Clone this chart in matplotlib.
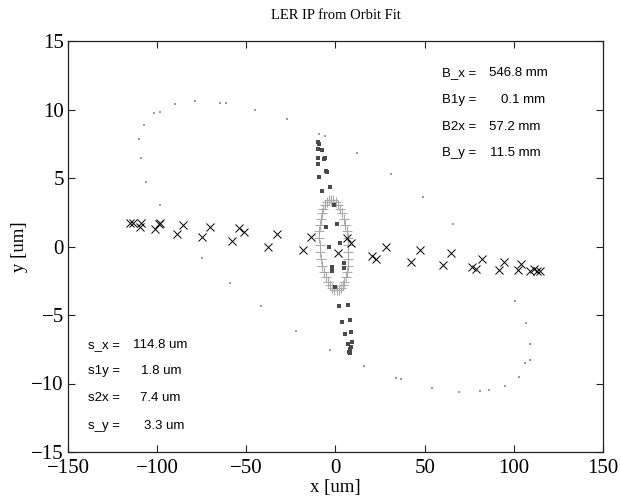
import matplotlib
matplotlib.use("Agg")
import matplotlib.pyplot as plt

# ---- data ----
cross_x = [-115.1, -113.8, -109.9, -108.9, -101.4, -99.0, -98.2, -88.8, -85.6, -74.8,
           -70.6, -58.2, -54.1, -51.3, -37.7, -32.9, -18.4, -13.7, 1.3, 6.4, 8.8,
           20.7, 22.5, 28.2, 42.6, 47.3, 60.1, 64.8, 76.4, 78.9, 82.0, 91.8, 94.3,
           102.1, 104.2, 109.3, 111.2, 113.1, 114.9]
cross_y = [1.74, 1.74, 1.45, 1.74, 1.25, 1.64, 1.74, 0.91, 1.57, 0.67,
           1.45, 0.42, 1.37, 1.08, -0.06, 0.91, -0.26, 0.72, -0.50, 0.60, 0.23,
           -0.69, -0.94, 0.00, -1.16, -0.26, -1.35, -0.45, -1.47, -1.67, -0.94, -1.72, -1.11,
           -1.72, -1.28, -1.76, -1.67, -1.76, -1.76]

plus_x = [7.1, 6.77, 6.25, 5.55, 4.69, 3.70, 2.59, 1.39, 0.14, -1.13,
          -2.4, -3.63, -4.80, -5.87, -6.81, -7.62, -8.25, -8.71, -8.97, -9.03,
          -8.9, -8.57, -8.05, -7.35, -6.49, -5.50, -4.39, -3.19, -1.94, -0.67,
          0.6, 1.83, 3.00, 4.07, 5.01, 5.82, 6.45, 6.91, 7.17, 7.23]
plus_y = [0.10, 0.61, 1.12, 1.60, 2.04, 2.43, 2.77, 3.04, 3.24, 3.36,
          3.40, 3.36, 3.24, 3.04, 2.77, 2.43, 2.04, 1.60, 1.12, 0.61,
          0.10, -0.41, -0.92, -1.40, -1.84, -2.23, -2.57, -2.84, -3.04, -3.16,
          -3.20, -3.16, -3.04, -2.84, -2.57, -2.23, -1.84, -1.40, -0.92, -0.41]

dark_x = [-9.6, -9.0, -9.6, -7.7, -9.6, -6.6, -5.8, -9.6, -5.2, -4.7, -9.0, -3.0, -7.7,
          -1.0, -5.2, 0.7, 2.6, -3.8, 4.7, -2.1, -1.9, 4.7, 0.0,
          1.9, 6.9, 3.5, 7.9, 5.1, 8.8, 9.2, 6.9, 8.8, 7.9, 8.3, 7.3]
dark_y = [7.65, 7.48, 7.14, 7.04, 6.44, 6.36, 6.44, 6.00, 5.51, 5.44, 5.10, 4.32, 4.05,
          3.03, 1.45, 1.62, 0.23, -0.06, -1.18, -1.52, -1.77, -1.60, -2.98,
          -4.34, -4.25, -5.51, -5.36, -6.41, -6.26, -6.95, -7.14, -7.36, -7.50, -7.80, -7.68]

light_x = [-98.6, -106.3, -108.9, -110.0, -107.4, -102.0, -98.6, -89.8, -78.9, -64.8,
           -61.2, -45.2, -27.4, -9.0, -5.8, 12.2, 31.4, 48.8, 66.1,
           -74.8, -59.3, -41.9, -22.1, -3.0, 15.9, 33.8, 36.6, 53.9, 69.3, 81.1,
           85.8, 95.2, 102.7, 106.5, 109.3, 109.3, 107.0, 100.8]
light_y = [3.03, 4.73, 6.48, 7.82, 8.89, 9.72, 9.82, 10.40, 10.60, 10.50,
           10.45, 10.00, 9.28, 8.20, 8.07, 6.80, 5.27, 3.64, 1.62,
           -0.86, -2.69, -4.34, -6.15, -7.55, -8.72, -9.58, -9.70, -10.30, -10.64, -10.55,
           -10.50, -10.18, -9.50, -8.48, -8.31, -7.12, -5.60, -3.98]

b_labels = ["B_x =", "B1y =", "B2x =", "B_y ="]
b_values = ["546.8 mm", "0.1 mm", "57.2 mm", "11.5 mm"]
s_labels = ["s_x =", "s1y =", "s2x =", "s_y ="]
s_values = ["114.8 um", "1.8 um", "7.4 um", "3.3 um"]

x_ticks = [-150, -100, -50, 0, 50, 100, 150]
y_ticks = [-15, -10, -5, 0, 5, 10, 15]

# ---- figure ----
fig = plt.figure(figsize=(6.21, 5.0), dpi=100)
ax = fig.add_axes([0.1095, 0.096, 0.8615, 0.822])

ax.plot(light_x, light_y, linestyle="none", marker="s", ms=2.0, mew=0,
        color="#9a9a9a")
ax.plot(plus_x, plus_y, linestyle="none", marker="+", ms=6.5, mew=0.8,
        color="#aaaaaa")
ax.plot(dark_x, dark_y, linestyle="none", marker="s", ms=2.5, mew=0,
        color="#4a4a4a")
ax.plot(cross_x, cross_y, linestyle="none", marker="x", ms=6, mew=0.7,
        color="black")

ax.set_xlim(-150, 150)
ax.set_ylim(-15, 15)
ax.set_xticks(x_ticks)
ax.set_yticks(y_ticks)

serif = ["Liberation Serif", "DejaVu Serif"]
sans = ["Liberation Sans", "DejaVu Sans"]

ax.tick_params(direction="in", top=True, right=True, length=5, width=0.8,
               labelsize=15, colors="#222222")
ax.tick_params(axis="y", pad=3)
ax.tick_params(axis="x", pad=5)
for lab in ax.get_xticklabels() + ax.get_yticklabels():
    lab.set_family(serif)
    lab.set_color("black")
for s in ax.spines.values():
    s.set_linewidth(0.9)
    s.set_color("#222222")

ax.set_title("LER IP from Orbit Fit", family=serif, fontsize=10.5, pad=16)
ax.set_xlabel("x [um]", family=serif, fontsize=13.5, labelpad=1)
ax.set_ylabel("y [um]", family=serif, fontsize=13.5, labelpad=2)

b_label_x = 59.5
b_value_x = [86.0, 93.0, 86.0, 86.5]
b_rows = [12.66, 10.69, 8.72, 6.82]
for lab, val, vx, ry in zip(b_labels, b_values, b_value_x, b_rows):
    ax.text(b_label_x, ry, lab, family=sans, fontsize=9.5, ha="left", va="center")
    ax.text(vx, ry, val, family=sans, fontsize=9.5, ha="left", va="center")

s_label_x = -138.8
s_value_x = [-113.4, -109.3, -109.7, -107.4]
s_rows = [-7.19, -9.09, -11.08, -13.1]
for lab, val, vx, ry in zip(s_labels, s_values, s_value_x, s_rows):
    ax.text(s_label_x, ry, lab, family=sans, fontsize=9.5, ha="left", va="center")
    ax.text(vx, ry, val, family=sans, fontsize=9.5, ha="left", va="center")

fig.savefig("out.png", dpi=100)
